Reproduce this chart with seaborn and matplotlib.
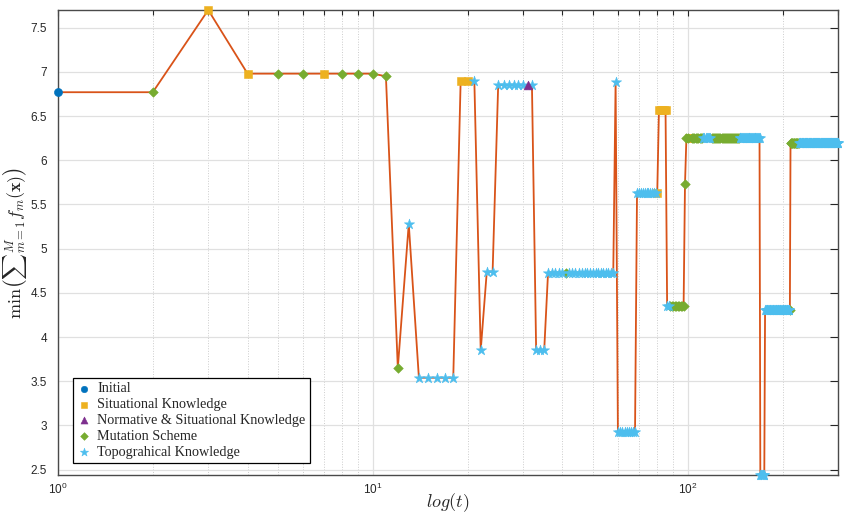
import numpy as np
import pandas as pd
import matplotlib
matplotlib.use("Agg")
import matplotlib.pyplot as plt
import seaborn as sns
from matplotlib.ticker import FixedLocator, FixedFormatter, LogLocator, NullFormatter

# Best objective value per iteration, stored as runs of (value, operator, length)
run_values = [6.77, 6.77, 7.70, 6.98, 6.98, 6.98, 6.98, 6.95, 3.65, 5.28,
              3.54, 6.90, 6.90, 3.85, 4.74, 6.85, 6.85, 6.85, 3.85, 4.73,
              4.73, 4.73, 6.89, 2.93, 5.63, 5.63, 6.57, 4.35, 4.35, 5.73,
              6.25, 6.25, 6.25, 6.25, 6.25, 6.25, 2.44, 4.31, 4.31, 6.20,
              6.20]
run_sources = ["Initial", "Mutation Scheme", "Situational Knowledge", "Situational Knowledge",
               "Mutation Scheme", "Situational Knowledge", "Mutation Scheme", "Mutation Scheme",
               "Mutation Scheme", "Topograhical Knowledge",
               "Topograhical Knowledge", "Situational Knowledge", "Topograhical Knowledge",
               "Topograhical Knowledge", "Topograhical Knowledge", "Topograhical Knowledge",
               "Normative & Situational Knowledge", "Topograhical Knowledge",
               "Topograhical Knowledge", "Topograhical Knowledge",
               "Mutation Scheme", "Topograhical Knowledge", "Topograhical Knowledge",
               "Topograhical Knowledge", "Topograhical Knowledge", "Situational Knowledge",
               "Situational Knowledge", "Topograhical Knowledge", "Mutation Scheme",
               "Mutation Scheme",
               "Mutation Scheme", "Situational Knowledge", "Mutation Scheme",
               "Topograhical Knowledge", "Mutation Scheme", "Topograhical Knowledge",
               "Topograhical Knowledge", "Topograhical Knowledge", "Mutation Scheme",
               "Mutation Scheme", "Topograhical Knowledge"]
run_lengths = [1, 1, 1, 1, 2, 1, 3, 1, 1, 1,
               5, 2, 1, 1, 2, 6, 1, 1, 3, 5,
               1, 17, 1, 9, 11, 1, 5, 2, 10, 1,
               2, 2, 9, 7, 27, 24, 6, 35, 1, 14,
               75]

categories = ["Initial", "Situational Knowledge", "Normative & Situational Knowledge",
              "Mutation Scheme", "Topograhical Knowledge"]
cat_colors = ["#0072BD", "#EDB120", "#7E2F8E", "#77AC30", "#4DBEEE"]
cat_markers = ["o", "s", "^", "D", "*"]
cat_sizes = [34, 26, 40, 24, 60]
cat_zorders = [3, 3, 5, 3, 4]

y_ticks = [2.5, 3, 3.5, 4, 4.5, 5, 5.5, 6, 6.5, 7, 7.5]
y_tick_labels = ["2.5", "3", "3.5", "4", "4.5", "5", "5.5", "6", "6.5", "7", "7.5"]

values = np.repeat(run_values, run_lengths)
sources = np.repeat(run_sources, run_lengths)
t = np.arange(1, len(values) + 1)
df = pd.DataFrame({"t": t, "value": values, "source": sources})

sns.set_theme(style="white")
plt.rcParams["font.family"] = ["Liberation Sans", "DejaVu Sans"]

fig = plt.figure(figsize=(8.45, 5.19), dpi=100)
ax = fig.add_axes([58 / 845, 1 - 475 / 519, 780 / 845, 465 / 519])

sns.lineplot(data=df, x="t", y="value", ax=ax, color="#D95319", linewidth=1.3,
             estimator=None, sort=False, zorder=2, legend=False)

palette = dict(zip(categories, cat_colors))
markers = dict(zip(categories, cat_markers))
for cat, size, z in zip(categories, cat_sizes, cat_zorders):
    sub = df[df["source"] == cat]
    sns.scatterplot(data=sub, x="t", y="value", ax=ax, color=palette[cat],
                    marker=markers[cat], s=size, linewidth=0.4, edgecolor=palette[cat],
                    zorder=z, label=cat, clip_on=False)

ax.set_xscale("log")
ax.set_xlim(1, 300)
ax.set_ylim(2.44, 7.70)

ax.yaxis.set_major_locator(FixedLocator(y_ticks))
ax.yaxis.set_major_formatter(FixedFormatter(y_tick_labels))
ax.xaxis.set_major_locator(LogLocator(base=10))
ax.xaxis.set_minor_locator(LogLocator(base=10, subs=np.arange(2, 10)))
ax.xaxis.set_minor_formatter(NullFormatter())

ax.grid(True, which="major", color="#e0e0e0", linewidth=0.9, linestyle="-")
ax.grid(True, which="minor", axis="x", color="#cccccc", linewidth=0.7, linestyle=":")
ax.set_axisbelow(True)

ax.tick_params(axis="both", which="both", direction="in", top=True, right=True,
               colors="#262626", labelcolor="#262626", labelsize=8.5, width=0.8)
ax.tick_params(axis="y", which="major", length=5.5, pad=8)
ax.tick_params(axis="x", which="major", length=4, pad=5)
ax.tick_params(axis="x", which="minor", length=3.5)
for sp in ax.spines.values():
    sp.set_color("#4a4a4a")
    sp.set_linewidth(1.0)

ax.set_xlabel(r"$log(t)$", fontsize=13, math_fontfamily="cm")
ax.xaxis.set_label_coords(0.5, -0.036)
ax.set_ylabel(r"$\min\left({\sum}_{m=1}^{M} f_m(\mathbf{x})\right)$", fontsize=13,
              math_fontfamily="cm")
ax.yaxis.set_label_coords(-0.037, 0.5)

leg = ax.legend(loc="lower left", bbox_to_anchor=(0.0192, 0.0258), borderaxespad=0,
                frameon=True, fancybox=False, framealpha=1, edgecolor="black",
                prop={"family": "Liberation Serif", "size": 10.2},
                handlelength=0.9, handletextpad=0.5, labelspacing=0.2,
                borderpad=0.3, markerscale=0.8)
leg.get_frame().set_linewidth(0.9)

fig.savefig("out.png", dpi=100)
